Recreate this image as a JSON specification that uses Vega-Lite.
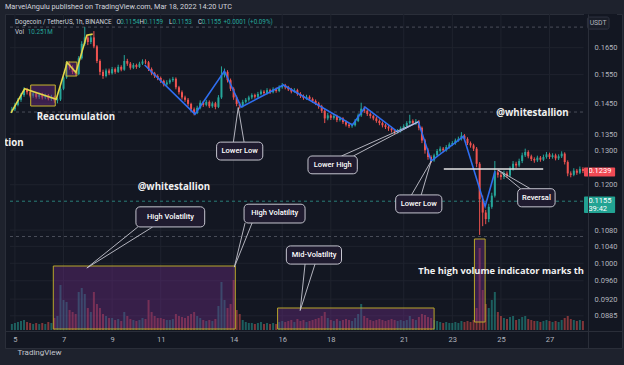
{
  "$schema": "https://vega.github.io/schema/vega-lite/v6.json",
  "width": 617,
  "height": 334,
  "autosize": {"type": "none"},
  "padding": {"left": 5, "top": 14, "right": 2, "bottom": 17},
  "background": "#1e222d",
  "title": {"text": "MarvelAngulu published on TradingView.com, Mar 18, 2022 14:20 UTC", "anchor": "start", "frame": "group", "fontSize": 7.3, "font": "Roboto", "fontWeight": "normal", "color": "#d1d4dc", "offset": 3},
  "config": {"view": {"fill": "#131722", "stroke": "#2a2e39"}},
  "datasets": {
    "c": [
      {"d":4.875,"o":0.1425,"h":0.1438,"l":0.1418,"c":0.1430,"v":6},
      {"d":5.000,"o":0.1430,"h":0.1452,"l":0.1424,"c":0.1445,"v":7},
      {"d":5.125,"o":0.1445,"h":0.1468,"l":0.1440,"c":0.1462,"v":8},
      {"d":5.250,"o":0.1462,"h":0.1485,"l":0.1455,"c":0.1478,"v":9},
      {"d":5.375,"o":0.1478,"h":0.1505,"l":0.1472,"c":0.1497,"v":10},
      {"d":5.500,"o":0.1497,"h":0.1503,"l":0.1480,"c":0.1488,"v":8},
      {"d":5.625,"o":0.1488,"h":0.1494,"l":0.1470,"c":0.1476,"v":7},
      {"d":5.750,"o":0.1476,"h":0.1490,"l":0.1469,"c":0.1484,"v":6},
      {"d":5.875,"o":0.1484,"h":0.1489,"l":0.1466,"c":0.1472,"v":7},
      {"d":6.000,"o":0.1472,"h":0.1487,"l":0.1465,"c":0.1480,"v":6},
      {"d":6.125,"o":0.1480,"h":0.1486,"l":0.1463,"c":0.1470,"v":7},
      {"d":6.250,"o":0.1470,"h":0.1483,"l":0.1464,"c":0.1477,"v":6},
      {"d":6.375,"o":0.1477,"h":0.1482,"l":0.1460,"c":0.1466,"v":8},
      {"d":6.500,"o":0.1466,"h":0.1479,"l":0.1458,"c":0.1472,"v":7},
      {"d":6.625,"o":0.1472,"h":0.1476,"l":0.1452,"c":0.1460,"v":12},
      {"d":6.750,"o":0.1460,"h":0.1470,"l":0.1450,"c":0.1463,"v":14},
      {"d":6.875,"o":0.1463,"h":0.1508,"l":0.1458,"c":0.1500,"v":45},
      {"d":7.000,"o":0.1500,"h":0.1548,"l":0.1495,"c":0.1540,"v":30},
      {"d":7.125,"o":0.1540,"h":0.1600,"l":0.1535,"c":0.1590,"v":28},
      {"d":7.250,"o":0.1590,"h":0.1598,"l":0.1568,"c":0.1575,"v":20},
      {"d":7.375,"o":0.1575,"h":0.1584,"l":0.1552,"c":0.1560,"v":18},
      {"d":7.500,"o":0.1560,"h":0.1566,"l":0.1545,"c":0.1552,"v":16},
      {"d":7.625,"o":0.1552,"h":0.1618,"l":0.1548,"c":0.1610,"v":38},
      {"d":7.750,"o":0.1610,"h":0.1675,"l":0.1605,"c":0.1665,"v":42},
      {"d":7.875,"o":0.1665,"h":0.1731,"l":0.1658,"c":0.1690,"v":36},
      {"d":8.000,"o":0.1690,"h":0.1700,"l":0.1660,"c":0.1672,"v":22},
      {"d":8.125,"o":0.1672,"h":0.1698,"l":0.1664,"c":0.1690,"v":18},
      {"d":8.250,"o":0.1690,"h":0.1715,"l":0.1648,"c":0.1655,"v":38},
      {"d":8.375,"o":0.1655,"h":0.1660,"l":0.1592,"c":0.1600,"v":26},
      {"d":8.500,"o":0.1600,"h":0.1606,"l":0.1548,"c":0.1560,"v":22},
      {"d":8.625,"o":0.1560,"h":0.1568,"l":0.1535,"c":0.1545,"v":16},
      {"d":8.750,"o":0.1545,"h":0.1572,"l":0.1540,"c":0.1565,"v":14},
      {"d":8.875,"o":0.1565,"h":0.1572,"l":0.1548,"c":0.1555,"v":12},
      {"d":9.000,"o":0.1555,"h":0.1578,"l":0.1550,"c":0.1570,"v":12},
      {"d":9.125,"o":0.1570,"h":0.1576,"l":0.1553,"c":0.1560,"v":10},
      {"d":9.250,"o":0.1560,"h":0.1586,"l":0.1556,"c":0.1578,"v":11},
      {"d":9.375,"o":0.1578,"h":0.1584,"l":0.1562,"c":0.1568,"v":9},
      {"d":9.500,"o":0.1568,"h":0.1622,"l":0.1564,"c":0.1600,"v":18},
      {"d":9.625,"o":0.1600,"h":0.1608,"l":0.1582,"c":0.1590,"v":14},
      {"d":9.750,"o":0.1590,"h":0.1596,"l":0.1568,"c":0.1575,"v":11},
      {"d":9.875,"o":0.1575,"h":0.1592,"l":0.1570,"c":0.1585,"v":10},
      {"d":10.000,"o":0.1585,"h":0.1590,"l":0.1571,"c":0.1578,"v":9},
      {"d":10.125,"o":0.1578,"h":0.1597,"l":0.1574,"c":0.1590,"v":10},
      {"d":10.250,"o":0.1590,"h":0.1606,"l":0.1585,"c":0.1598,"v":12},
      {"d":10.375,"o":0.1598,"h":0.1606,"l":0.1588,"c":0.1595,"v":11},
      {"d":10.500,"o":0.1595,"h":0.1600,"l":0.1563,"c":0.1570,"v":30},
      {"d":10.625,"o":0.1570,"h":0.1576,"l":0.1548,"c":0.1555,"v":18},
      {"d":10.750,"o":0.1555,"h":0.1560,"l":0.1538,"c":0.1545,"v":14},
      {"d":10.875,"o":0.1545,"h":0.1551,"l":0.1530,"c":0.1538,"v":12},
      {"d":11.000,"o":0.1538,"h":0.1543,"l":0.1520,"c":0.1528,"v":12},
      {"d":11.125,"o":0.1528,"h":0.1532,"l":0.1508,"c":0.1515,"v":11},
      {"d":11.250,"o":0.1515,"h":0.1530,"l":0.1510,"c":0.1522,"v":10},
      {"d":11.375,"o":0.1522,"h":0.1536,"l":0.1516,"c":0.1530,"v":10},
      {"d":11.500,"o":0.1530,"h":0.1542,"l":0.1524,"c":0.1535,"v":11},
      {"d":11.625,"o":0.1535,"h":0.1540,"l":0.1498,"c":0.1505,"v":16},
      {"d":11.750,"o":0.1505,"h":0.1510,"l":0.1480,"c":0.1488,"v":14},
      {"d":11.875,"o":0.1488,"h":0.1494,"l":0.1463,"c":0.1470,"v":13},
      {"d":12.000,"o":0.1470,"h":0.1476,"l":0.1455,"c":0.1462,"v":12},
      {"d":12.125,"o":0.1462,"h":0.1468,"l":0.1440,"c":0.1448,"v":14},
      {"d":12.250,"o":0.1448,"h":0.1452,"l":0.1422,"c":0.1430,"v":16},
      {"d":12.375,"o":0.1430,"h":0.1436,"l":0.1410,"c":0.1418,"v":18},
      {"d":12.500,"o":0.1418,"h":0.1442,"l":0.1414,"c":0.1435,"v":14},
      {"d":12.625,"o":0.1435,"h":0.1460,"l":0.1430,"c":0.1452,"v":12},
      {"d":12.750,"o":0.1452,"h":0.1458,"l":0.1438,"c":0.1445,"v":10},
      {"d":12.875,"o":0.1445,"h":0.1462,"l":0.1440,"c":0.1455,"v":9},
      {"d":13.000,"o":0.1455,"h":0.1460,"l":0.1434,"c":0.1440,"v":10},
      {"d":13.125,"o":0.1440,"h":0.1456,"l":0.1435,"c":0.1450,"v":9},
      {"d":13.250,"o":0.1450,"h":0.1455,"l":0.1430,"c":0.1438,"v":11},
      {"d":13.375,"o":0.1438,"h":0.1478,"l":0.1434,"c":0.1470,"v":24},
      {"d":13.500,"o":0.1470,"h":0.1580,"l":0.1465,"c":0.1548,"v":48},
      {"d":13.625,"o":0.1548,"h":0.1572,"l":0.1540,"c":0.1560,"v":30},
      {"d":13.750,"o":0.1560,"h":0.1566,"l":0.1522,"c":0.1530,"v":22},
      {"d":13.875,"o":0.1530,"h":0.1536,"l":0.1492,"c":0.1500,"v":26},
      {"d":14.000,"o":0.1500,"h":0.1505,"l":0.1462,"c":0.1470,"v":50},
      {"d":14.125,"o":0.1470,"h":0.1476,"l":0.1440,"c":0.1448,"v":20},
      {"d":14.250,"o":0.1448,"h":0.1454,"l":0.1432,"c":0.1440,"v":16},
      {"d":14.375,"o":0.1440,"h":0.1462,"l":0.1436,"c":0.1455,"v":10},
      {"d":14.500,"o":0.1455,"h":0.1468,"l":0.1450,"c":0.1462,"v":8},
      {"d":14.625,"o":0.1462,"h":0.1476,"l":0.1456,"c":0.1470,"v":7},
      {"d":14.750,"o":0.1470,"h":0.1484,"l":0.1464,"c":0.1478,"v":7},
      {"d":14.875,"o":0.1478,"h":0.1483,"l":0.1466,"c":0.1472,"v":6},
      {"d":15.000,"o":0.1472,"h":0.1489,"l":0.1468,"c":0.1482,"v":7},
      {"d":15.125,"o":0.1482,"h":0.1497,"l":0.1477,"c":0.1490,"v":8},
      {"d":15.250,"o":0.1490,"h":0.1495,"l":0.1478,"c":0.1485,"v":6},
      {"d":15.375,"o":0.1485,"h":0.1502,"l":0.1480,"c":0.1495,"v":7},
      {"d":15.500,"o":0.1495,"h":0.1500,"l":0.1482,"c":0.1488,"v":6},
      {"d":15.625,"o":0.1488,"h":0.1505,"l":0.1484,"c":0.1498,"v":7},
      {"d":15.750,"o":0.1498,"h":0.1504,"l":0.1486,"c":0.1492,"v":6},
      {"d":15.875,"o":0.1492,"h":0.1512,"l":0.1488,"c":0.1505,"v":8},
      {"d":16.000,"o":0.1505,"h":0.1520,"l":0.1500,"c":0.1512,"v":9},
      {"d":16.125,"o":0.1512,"h":0.1517,"l":0.1498,"c":0.1505,"v":8},
      {"d":16.250,"o":0.1505,"h":0.1510,"l":0.1492,"c":0.1498,"v":9},
      {"d":16.375,"o":0.1498,"h":0.1503,"l":0.1484,"c":0.1490,"v":10},
      {"d":16.500,"o":0.1490,"h":0.1502,"l":0.1486,"c":0.1495,"v":8},
      {"d":16.625,"o":0.1495,"h":0.1500,"l":0.1476,"c":0.1482,"v":11},
      {"d":16.750,"o":0.1482,"h":0.1488,"l":0.1468,"c":0.1475,"v":9},
      {"d":16.875,"o":0.1475,"h":0.1480,"l":0.1462,"c":0.1468,"v":10},
      {"d":17.000,"o":0.1468,"h":0.1479,"l":0.1462,"c":0.1472,"v":8},
      {"d":17.125,"o":0.1472,"h":0.1477,"l":0.1458,"c":0.1465,"v":9},
      {"d":17.250,"o":0.1465,"h":0.1470,"l":0.1452,"c":0.1458,"v":10},
      {"d":17.375,"o":0.1458,"h":0.1463,"l":0.1444,"c":0.1450,"v":11},
      {"d":17.500,"o":0.1450,"h":0.1455,"l":0.1432,"c":0.1440,"v":12},
      {"d":17.625,"o":0.1440,"h":0.1445,"l":0.1418,"c":0.1425,"v":14},
      {"d":17.750,"o":0.1425,"h":0.1430,"l":0.1385,"c":0.1400,"v":18},
      {"d":17.875,"o":0.1400,"h":0.1418,"l":0.1394,"c":0.1410,"v":12},
      {"d":18.000,"o":0.1410,"h":0.1415,"l":0.1395,"c":0.1402,"v":10},
      {"d":18.125,"o":0.1402,"h":0.1414,"l":0.1396,"c":0.1408,"v":9},
      {"d":18.250,"o":0.1408,"h":0.1412,"l":0.1388,"c":0.1395,"v":11},
      {"d":18.375,"o":0.1395,"h":0.1406,"l":0.1390,"c":0.1400,"v":9},
      {"d":18.500,"o":0.1400,"h":0.1404,"l":0.1382,"c":0.1388,"v":10},
      {"d":18.625,"o":0.1388,"h":0.1393,"l":0.1374,"c":0.1380,"v":11},
      {"d":18.750,"o":0.1380,"h":0.1385,"l":0.1369,"c":0.1375,"v":10},
      {"d":18.875,"o":0.1375,"h":0.1384,"l":0.1370,"c":0.1378,"v":9},
      {"d":19.000,"o":0.1378,"h":0.1398,"l":0.1374,"c":0.1392,"v":12},
      {"d":19.125,"o":0.1392,"h":0.1416,"l":0.1388,"c":0.1410,"v":16},
      {"d":19.250,"o":0.1410,"h":0.1452,"l":0.1405,"c":0.1432,"v":26},
      {"d":19.375,"o":0.1432,"h":0.1440,"l":0.1418,"c":0.1425,"v":14},
      {"d":19.500,"o":0.1425,"h":0.1430,"l":0.1408,"c":0.1415,"v":12},
      {"d":19.625,"o":0.1415,"h":0.1420,"l":0.1400,"c":0.1408,"v":10},
      {"d":19.750,"o":0.1408,"h":0.1412,"l":0.1394,"c":0.1400,"v":9},
      {"d":19.875,"o":0.1400,"h":0.1405,"l":0.1386,"c":0.1392,"v":10},
      {"d":20.000,"o":0.1392,"h":0.1397,"l":0.1378,"c":0.1385,"v":11},
      {"d":20.125,"o":0.1385,"h":0.1390,"l":0.1371,"c":0.1378,"v":10},
      {"d":20.250,"o":0.1378,"h":0.1383,"l":0.1366,"c":0.1372,"v":9},
      {"d":20.375,"o":0.1372,"h":0.1378,"l":0.1360,"c":0.1368,"v":10},
      {"d":20.500,"o":0.1368,"h":0.1373,"l":0.1355,"c":0.1362,"v":11},
      {"d":20.625,"o":0.1362,"h":0.1366,"l":0.1350,"c":0.1358,"v":10},
      {"d":20.750,"o":0.1358,"h":0.1366,"l":0.1352,"c":0.1360,"v":9},
      {"d":20.875,"o":0.1360,"h":0.1374,"l":0.1355,"c":0.1368,"v":10},
      {"d":21.000,"o":0.1368,"h":0.1381,"l":0.1363,"c":0.1375,"v":9},
      {"d":21.125,"o":0.1375,"h":0.1391,"l":0.1370,"c":0.1385,"v":10},
      {"d":21.250,"o":0.1385,"h":0.1412,"l":0.1380,"c":0.1392,"v":14},
      {"d":21.375,"o":0.1392,"h":0.1397,"l":0.1378,"c":0.1384,"v":11},
      {"d":21.500,"o":0.1384,"h":0.1398,"l":0.1379,"c":0.1390,"v":10},
      {"d":21.625,"o":0.1390,"h":0.1395,"l":0.1362,"c":0.1370,"v":13},
      {"d":21.750,"o":0.1370,"h":0.1374,"l":0.1322,"c":0.1330,"v":16},
      {"d":21.875,"o":0.1330,"h":0.1335,"l":0.1290,"c":0.1300,"v":15},
      {"d":22.000,"o":0.1300,"h":0.1306,"l":0.1272,"c":0.1280,"v":13},
      {"d":22.125,"o":0.1280,"h":0.1285,"l":0.1262,"c":0.1270,"v":12},
      {"d":22.250,"o":0.1270,"h":0.1290,"l":0.1266,"c":0.1285,"v":10},
      {"d":22.375,"o":0.1285,"h":0.1304,"l":0.1280,"c":0.1298,"v":9},
      {"d":22.500,"o":0.1298,"h":0.1312,"l":0.1293,"c":0.1305,"v":8},
      {"d":22.625,"o":0.1305,"h":0.1310,"l":0.1294,"c":0.1300,"v":7},
      {"d":22.750,"o":0.1300,"h":0.1316,"l":0.1296,"c":0.1310,"v":8},
      {"d":22.875,"o":0.1310,"h":0.1324,"l":0.1305,"c":0.1318,"v":7},
      {"d":23.000,"o":0.1318,"h":0.1328,"l":0.1313,"c":0.1322,"v":7},
      {"d":23.125,"o":0.1322,"h":0.1336,"l":0.1317,"c":0.1330,"v":8},
      {"d":23.250,"o":0.1330,"h":0.1342,"l":0.1326,"c":0.1335,"v":7},
      {"d":23.375,"o":0.1335,"h":0.1356,"l":0.1330,"c":0.1345,"v":9},
      {"d":23.500,"o":0.1345,"h":0.1350,"l":0.1328,"c":0.1335,"v":8},
      {"d":23.625,"o":0.1335,"h":0.1340,"l":0.1316,"c":0.1322,"v":9},
      {"d":23.750,"o":0.1322,"h":0.1327,"l":0.1308,"c":0.1315,"v":8},
      {"d":23.875,"o":0.1315,"h":0.1320,"l":0.1298,"c":0.1305,"v":10},
      {"d":24.000,"o":0.1305,"h":0.1310,"l":0.1250,"c":0.1260,"v":22},
      {"d":24.125,"o":0.1260,"h":0.1265,"l":0.1068,"c":0.1160,"v":82},
      {"d":24.250,"o":0.1160,"h":0.1170,"l":0.1090,"c":0.1125,"v":40},
      {"d":24.375,"o":0.1125,"h":0.1132,"l":0.1095,"c":0.1108,"v":26},
      {"d":24.500,"o":0.1108,"h":0.1148,"l":0.1100,"c":0.1140,"v":22},
      {"d":24.625,"o":0.1140,"h":0.1178,"l":0.1135,"c":0.1170,"v":30},
      {"d":24.750,"o":0.1170,"h":0.1268,"l":0.1165,"c":0.1235,"v":38},
      {"d":24.875,"o":0.1235,"h":0.1242,"l":0.1220,"c":0.1228,"v":18},
      {"d":25.000,"o":0.1228,"h":0.1234,"l":0.1214,"c":0.1222,"v":14},
      {"d":25.125,"o":0.1222,"h":0.1240,"l":0.1216,"c":0.1232,"v":12},
      {"d":25.250,"o":0.1232,"h":0.1238,"l":0.1219,"c":0.1226,"v":11},
      {"d":25.375,"o":0.1226,"h":0.1252,"l":0.1221,"c":0.1245,"v":13},
      {"d":25.500,"o":0.1245,"h":0.1268,"l":0.1240,"c":0.1260,"v":14},
      {"d":25.625,"o":0.1260,"h":0.1266,"l":0.1248,"c":0.1255,"v":10},
      {"d":25.750,"o":0.1255,"h":0.1275,"l":0.1250,"c":0.1268,"v":11},
      {"d":25.875,"o":0.1268,"h":0.1293,"l":0.1262,"c":0.1285,"v":13},
      {"d":26.000,"o":0.1285,"h":0.1305,"l":0.1280,"c":0.1295,"v":14},
      {"d":26.125,"o":0.1295,"h":0.1300,"l":0.1276,"c":0.1282,"v":11},
      {"d":26.250,"o":0.1282,"h":0.1287,"l":0.1268,"c":0.1274,"v":10},
      {"d":26.375,"o":0.1274,"h":0.1279,"l":0.1263,"c":0.1270,"v":9},
      {"d":26.500,"o":0.1270,"h":0.1284,"l":0.1265,"c":0.1278,"v":9},
      {"d":26.625,"o":0.1278,"h":0.1283,"l":0.1266,"c":0.1272,"v":8},
      {"d":26.750,"o":0.1272,"h":0.1287,"l":0.1268,"c":0.1280,"v":9},
      {"d":26.875,"o":0.1280,"h":0.1295,"l":0.1275,"c":0.1288,"v":10},
      {"d":27.000,"o":0.1288,"h":0.1293,"l":0.1274,"c":0.1280,"v":9},
      {"d":27.125,"o":0.1280,"h":0.1291,"l":0.1275,"c":0.1285,"v":8},
      {"d":27.250,"o":0.1285,"h":0.1290,"l":0.1270,"c":0.1276,"v":9},
      {"d":27.375,"o":0.1276,"h":0.1288,"l":0.1271,"c":0.1282,"v":8},
      {"d":27.500,"o":0.1282,"h":0.1297,"l":0.1277,"c":0.1290,"v":10},
      {"d":27.625,"o":0.1290,"h":0.1294,"l":0.1258,"c":0.1265,"v":12},
      {"d":27.750,"o":0.1265,"h":0.1270,"l":0.1224,"c":0.1232,"v":14},
      {"d":27.875,"o":0.1232,"h":0.1238,"l":0.1221,"c":0.1228,"v":11},
      {"d":28.000,"o":0.1228,"h":0.1247,"l":0.1224,"c":0.1240,"v":10},
      {"d":28.125,"o":0.1240,"h":0.1245,"l":0.1228,"c":0.1234,"v":9},
      {"d":28.250,"o":0.1234,"h":0.1252,"l":0.1230,"c":0.1245,"v":10},
      {"d":28.375,"o":0.1245,"h":0.1250,"l":0.1233,"c":0.1239,"v":9}
    ],
    "vgrid": [{"d":5},{"d":7},{"d":9},{"d":11},{"d":14},{"d":16},{"d":18},{"d":21},{"d":23},{"d":25},{"d":27}],
    "hgrid": [{"p":0.165},{"p":0.155},{"p":0.145},{"p":0.135},{"p":0.13},{"p":0.12},{"p":0.108},{"p":0.104},{"p":0.1},{"p":0.096},{"p":0.092},{"p":0.0885}],
    "hl": [{"p":0.1731,"k":"g"},{"p":0.1421,"k":"g"},{"p":0.1155,"k":"cur"},{"p":0.1064,"k":"g"}],
    "vb": [
      {"d":6.58,"d2":14.07,"v":1,"v2":64},
      {"d":15.81,"d2":22.25,"v":1,"v2":22},
      {"d":23.91,"d2":24.35,"v":8,"v2":91}
    ],
    "pb": [
      {"d":5.65,"d2":6.66,"p":0.1513,"p2":0.1441},
      {"d":7.11,"d2":7.55,"p":0.1596,"p2":0.1545}
    ],
    "ln": [
      {"g":"y","i":1,"d":4.84,"p":0.1418},
      {"g":"y","i":2,"d":5.40,"p":0.1500},
      {"g":"y","i":3,"d":6.70,"p":0.1464},
      {"g":"y","i":4,"d":7.15,"p":0.1594},
      {"g":"y","i":5,"d":7.51,"p":0.1558},
      {"g":"y","i":6,"d":7.96,"p":0.1699},
      {"g":"y","i":7,"d":8.20,"p":0.1703},
      {"g":"b","i":1,"d":10.34,"p":0.1585},
      {"g":"b","i":2,"d":12.41,"p":0.1414},
      {"g":"b","i":3,"d":13.62,"p":0.1563},
      {"g":"b","i":4,"d":14.31,"p":0.1437},
      {"g":"b","i":5,"d":16.05,"p":0.1513},
      {"g":"b","i":6,"d":18.89,"p":0.1379},
      {"g":"b","i":7,"d":19.41,"p":0.1437},
      {"g":"b","i":8,"d":20.75,"p":0.1357},
      {"g":"b","i":9,"d":21.60,"p":0.1389},
      {"g":"b","i":10,"d":22.13,"p":0.1268},
      {"g":"b","i":11,"d":23.46,"p":0.1343},
      {"g":"b","i":12,"d":24.35,"p":0.1141},
      {"g":"b","i":13,"d":24.76,"p":0.1239}
    ],
    "wl": [{"d":22.65,"d2":26.74,"p":0.1245}],
    "sg": [
      {"d":13.99,"p":0.1325,"d2":14.19,"p2":0.1436},
      {"d":14.43,"p":0.1325,"d2":14.19,"p2":0.1436},
      {"d":18.44,"p":0.1283,"d2":21.60,"p2":0.1389},
      {"d":18.93,"p":0.1283,"d2":21.60,"p2":0.1389},
      {"d":21.32,"p":0.1172,"d2":22.13,"p2":0.1268},
      {"d":21.72,"p":0.1172,"d2":22.13,"p2":0.1268},
      {"d":25.81,"p":0.1189,"d2":24.88,"p2":0.1242},
      {"d":26.21,"p":0.1189,"d2":24.88,"p2":0.1242},
      {"d":10.06,"p":0.1088,"d2":7.96,"p2":0.0989},
      {"d":10.67,"p":0.1088,"d2":7.96,"p2":0.0989},
      {"d":14.47,"p":0.1098,"d2":14.03,"p2":0.0991},
      {"d":14.76,"p":0.1098,"d2":14.03,"p2":0.0991},
      {"d":16.94,"p":0.0998,"d2":16.74,"p2":0.0896},
      {"d":17.35,"p":0.0998,"d2":16.74,"p2":0.0896}
    ],
    "cb": [
      {"d":13.30,"d2":15.20,"p":0.1325,"p2":0.1271},
      {"d":17.06,"d2":19.09,"p":0.1283,"p2":0.1231},
      {"d":20.67,"d2":22.57,"p":0.1172,"p2":0.1124},
      {"d":25.69,"d2":27.23,"p":0.1189,"p2":0.1140},
      {"d":9.98,"d2":12.81,"p":0.1140,"p2":0.1088},
      {"d":14.43,"d2":16.94,"p":0.1147,"p2":0.1098},
      {"d":16.17,"d2":18.44,"p":0.1041,"p2":0.0998}
    ],
    "cl": [
      {"t":"Lower Low","d":14.25,"p":0.1298},
      {"t":"Lower High","d":18.08,"p":0.1257},
      {"t":"Lower Low","d":21.62,"p":0.1147},
      {"t":"Reversal","d":26.46,"p":0.1164},
      {"t":"High Volatility","d":11.40,"p":0.1114},
      {"t":"High Volatility","d":15.69,"p":0.1123},
      {"t":"Mid-Volatility","d":17.31,"p":0.1019}
    ],
    "nc": [
      {"t":"Reaccumulation","d":7.51,"p":0.1404},
      {"t":"@whitestallion","d":11.54,"p":0.1194},
      {"t":"@whitestallion","d":26.30,"p":0.1418}
    ],
    "nl": [{"t":"The high volume indicator marks the","d":21.60,"p":0.0982}],
    "nr": [{"t":"Accumulation","d":5.36,"p":0.1323}],
    "lg": [
      {"t":"Dogecoin / TetherUS, 1h, BINANCE","d":5.00,"p":0.1752,"k":"n"},
      {"t":"O","d":9.18,"p":0.1752,"k":"n"},
      {"t":"0.1154","d":9.33,"p":0.1752,"k":"t"},
      {"t":"H","d":10.13,"p":0.1752,"k":"n"},
      {"t":"0.1159","d":10.30,"p":0.1752,"k":"t"},
      {"t":"L","d":11.34,"p":0.1752,"k":"n"},
      {"t":"0.1153","d":11.48,"p":0.1752,"k":"t"},
      {"t":"C","d":12.53,"p":0.1752,"k":"n"},
      {"t":"0.1155","d":12.69,"p":0.1752,"k":"t"},
      {"t":"+0.0001 (+0.09%)","d":13.58,"p":0.1752,"k":"t"},
      {"t":"Vol","d":5.00,"p":0.1711,"k":"n"},
      {"t":"10.251M","d":5.53,"p":0.1711,"k":"t"}
    ],
    "tg": [
      {"d":28.42,"d2":29.70,"p":0.1249,"p2":0.1223,"k":"r"},
      {"d":28.42,"d2":29.70,"p":0.1168,"p2":0.1124,"k":"t"}
    ],
    "tt": [
      {"t":"0.1239","d":28.60,"p":0.1239},
      {"t":"0.1155","d":28.60,"p":0.1155},
      {"t":"39:42","d":28.60,"p":0.1135}
    ],
    "ub": [{"d":28.56,"d2":29.45,"p":0.1772,"p2":0.1723}],
    "ut": [{"t":"USDT","d":29.0,"p":0.1747}],
    "one": [{"d":28.42,"d2":29.7773,"p":0.08212,"p2":0.17845}]
  },
  "resolve": {"scale": {"y": "independent"}, "axis": {"x": "independent", "y": "independent"}},
  "layer": [
    {
      "data": {"name": "vgrid"},
      "mark": {"type": "rule", "color": "#1f232e", "strokeWidth": 1},
      "encoding": {
        "x": {"field": "d", "type": "quantitative", "scale": {"domain": [4.7976, 29.7773], "nice": false, "zero": false}, "axis": null},
        "y": {"datum": 0.0854, "type": "quantitative", "scale": {"type": "log", "domain": [0.08212, 0.17845], "nice": false, "zero": false}, "axis": null},
        "y2": {"datum": 0.17845}
      }
    },
    {
      "data": {"name": "hgrid"},
      "mark": {"type": "rule", "color": "#1f232e", "strokeWidth": 1},
      "encoding": {
        "x": {"datum": 4.7976, "type": "quantitative", "axis": null},
        "x2": {"datum": 28.40},
        "y": {"field": "p", "type": "quantitative", "scale": {"type": "log", "domain": [0.08212, 0.17845], "nice": false, "zero": false}, "axis": null}
      }
    },
    {
      "data": {"name": "c"},
      "mark": {"type": "bar", "size": 2, "opacity": 0.5},
      "encoding": {
        "x": {"field": "d", "type": "quantitative", "axis": null},
        "y": {"field": "v", "type": "quantitative", "stack": null, "scale": {"domain": [-18, 316], "nice": false, "zero": false}, "axis": null},
        "color": {"condition": {"test": "datum.c >= datum.o", "value": "#26a69a"}, "value": "#ef5350"}
      }
    },
    {
      "data": {"name": "vb"},
      "mark": {"type": "rect", "fill": "#6a2a80", "fillOpacity": 0.42, "stroke": "#b8a62a", "strokeWidth": 1},
      "encoding": {
        "x": {"field": "d", "type": "quantitative", "axis": null},
        "x2": {"field": "d2"},
        "y": {"field": "v", "type": "quantitative", "scale": {"domain": [-18, 316], "nice": false, "zero": false}, "axis": null},
        "y2": {"field": "v2"}
      }
    },
    {
      "data": {"name": "hl"},
      "mark": {"type": "rule", "strokeDash": [3, 3], "strokeWidth": 1},
      "encoding": {
        "x": {"datum": 4.7976, "type": "quantitative", "axis": null},
        "x2": {"datum": 28.40},
        "y": {"field": "p", "type": "quantitative", "scale": {"type": "log", "domain": [0.08212, 0.17845], "nice": false, "zero": false}, "axis": null},
        "color": {"condition": {"test": "datum.k == 'cur'", "value": "#2a7f78"}, "value": "#4a4e5a"}
      }
    },
    {
      "data": {"name": "c"},
      "mark": {"type": "rule", "strokeWidth": 1},
      "encoding": {
        "x": {"field": "d", "type": "quantitative", "scale": {"domain": [4.7976, 29.7773], "nice": false, "zero": false},
          "axis": {"values": [5,7,9,11,14,16,18,21,23,25,27], "format": "d", "orient": "bottom", "offset": -17, "ticks": false, "grid": false, "domain": true, "domainColor": "#2a2e39", "labelColor": "#b2b5be", "labelFontSize": 7.5, "labelFont": "Roboto", "labelPadding": 4, "labelFlush": false, "labelOverlap": false, "title": "TradingView", "titleColor": "#c3c6ce", "titleFontSize": 8, "titleFont": "Roboto", "titleFontWeight": "normal", "titleAnchor": "start", "titleAlign": "left", "titleX": 12, "titleY": 21, "titleBaseline": "middle", "zindex": 1}},
        "y": {"field": "l", "type": "quantitative", "scale": {"type": "log", "domain": [0.08212, 0.17845], "nice": false, "zero": false},
          "axis": {"orient": "right", "offset": -34, "values": [0.165,0.155,0.145,0.135,0.13,0.12,0.108,0.104,0.1,0.096,0.092,0.0885], "format": ".4f", "ticks": false, "grid": false, "domain": true, "domainColor": "#2a2e39", "labelColor": "#b2b5be", "labelFontSize": 7.5, "labelFont": "Roboto", "labelPadding": 6, "labelOverlap": false, "labelFlush": false, "title": null, "zindex": 1}},
        "y2": {"field": "h"},
        "color": {"condition": {"test": "datum.c >= datum.o", "value": "#26a69a"}, "value": "#ef5350"}
      }
    },
    {
      "data": {"name": "c"},
      "mark": {"type": "bar", "size": 2},
      "encoding": {
        "x": {"field": "d", "type": "quantitative", "axis": null},
        "y": {"field": "o", "type": "quantitative", "scale": {"type": "log", "domain": [0.08212, 0.17845], "nice": false, "zero": false}, "axis": null},
        "y2": {"field": "c"},
        "color": {"condition": {"test": "datum.c >= datum.o", "value": "#26a69a"}, "value": "#ef5350"}
      }
    },
    {
      "data": {"name": "pb"},
      "mark": {"type": "rect", "fill": "#6a2a80", "fillOpacity": 0.45, "stroke": "#c8b52c", "strokeWidth": 1},
      "encoding": {
        "x": {"field": "d", "type": "quantitative", "axis": null},
        "x2": {"field": "d2"},
        "y": {"field": "p", "type": "quantitative", "scale": {"type": "log", "domain": [0.08212, 0.17845], "nice": false, "zero": false}, "axis": null},
        "y2": {"field": "p2"}
      }
    },
    {
      "data": {"name": "ln"},
      "mark": {"type": "line", "strokeWidth": 1.6},
      "encoding": {
        "x": {"field": "d", "type": "quantitative", "axis": null},
        "y": {"field": "p", "type": "quantitative", "scale": {"type": "log", "domain": [0.08212, 0.17845], "nice": false, "zero": false}, "axis": null},
        "detail": {"field": "g"},
        "order": {"field": "i", "type": "quantitative"},
        "color": {"condition": {"test": "datum.g == 'y'", "value": "#e3d64a"}, "value": "#2f6ef0"}
      }
    },
    {
      "data": {"name": "wl"},
      "mark": {"type": "rule", "color": "#e6e6e6", "strokeWidth": 1.5},
      "encoding": {
        "x": {"field": "d", "type": "quantitative", "axis": null},
        "x2": {"field": "d2"},
        "y": {"field": "p", "type": "quantitative", "scale": {"type": "log", "domain": [0.08212, 0.17845], "nice": false, "zero": false}, "axis": null}
      }
    },
    {
      "data": {"name": "sg"},
      "mark": {"type": "rule", "color": "#c5c5cf", "strokeWidth": 0.9},
      "encoding": {
        "x": {"field": "d", "type": "quantitative", "axis": null},
        "x2": {"field": "d2"},
        "y": {"field": "p", "type": "quantitative", "scale": {"type": "log", "domain": [0.08212, 0.17845], "nice": false, "zero": false}, "axis": null},
        "y2": {"field": "p2"}
      }
    },
    {
      "data": {"name": "cb"},
      "mark": {"type": "rect", "fill": "#1f1b2f", "stroke": "#c5c5cf", "strokeWidth": 1, "cornerRadius": 4},
      "encoding": {
        "x": {"field": "d", "type": "quantitative", "axis": null},
        "x2": {"field": "d2"},
        "y": {"field": "p", "type": "quantitative", "scale": {"type": "log", "domain": [0.08212, 0.17845], "nice": false, "zero": false}, "axis": null},
        "y2": {"field": "p2"}
      }
    },
    {
      "data": {"name": "cl"},
      "mark": {"type": "text", "font": "Roboto", "fontWeight": 500, "fontSize": 7.5, "color": "#ffffff", "align": "center", "baseline": "middle"},
      "encoding": {
        "x": {"field": "d", "type": "quantitative", "axis": null},
        "y": {"field": "p", "type": "quantitative", "scale": {"type": "log", "domain": [0.08212, 0.17845], "nice": false, "zero": false}, "axis": null},
        "text": {"field": "t"}
      }
    },
    {
      "data": {"name": "nc"},
      "mark": {"type": "text", "font": "Open Sans", "fontWeight": 700, "fontSize": 9.7, "color": "#f0f0f0", "align": "center", "baseline": "middle"},
      "encoding": {
        "x": {"field": "d", "type": "quantitative", "axis": null},
        "y": {"field": "p", "type": "quantitative", "scale": {"type": "log", "domain": [0.08212, 0.17845], "nice": false, "zero": false}, "axis": null},
        "text": {"field": "t"}
      }
    },
    {
      "data": {"name": "nl"},
      "mark": {"type": "text", "font": "Open Sans", "fontWeight": 700, "fontSize": 9.3, "color": "#f0f0f0", "align": "left", "baseline": "middle"},
      "encoding": {
        "x": {"field": "d", "type": "quantitative", "axis": null},
        "y": {"field": "p", "type": "quantitative", "scale": {"type": "log", "domain": [0.08212, 0.17845], "nice": false, "zero": false}, "axis": null},
        "text": {"field": "t"}
      }
    },
    {
      "data": {"name": "nr"},
      "mark": {"type": "text", "font": "Open Sans", "fontWeight": 700, "fontSize": 9.7, "color": "#f0f0f0", "align": "right", "baseline": "middle", "clip": true},
      "encoding": {
        "x": {"field": "d", "type": "quantitative", "axis": null},
        "y": {"field": "p", "type": "quantitative", "scale": {"type": "log", "domain": [0.08212, 0.17845], "nice": false, "zero": false}, "axis": null},
        "text": {"field": "t"}
      }
    },
    {
      "data": {"name": "lg"},
      "mark": {"type": "text", "font": "Roboto", "fontSize": 6.3, "align": "left", "baseline": "middle"},
      "encoding": {
        "x": {"field": "d", "type": "quantitative", "axis": null},
        "y": {"field": "p", "type": "quantitative", "scale": {"type": "log", "domain": [0.08212, 0.17845], "nice": false, "zero": false}, "axis": null},
        "text": {"field": "t"},
        "color": {"condition": {"test": "datum.k == 't'", "value": "#26a69a"}, "value": "#d1d4dc"}
      }
    },
    {
      "data": {"name": "one"},
      "mark": {"type": "rect", "fill": "#131722"},
      "encoding": {
        "x": {"field": "d", "type": "quantitative", "axis": null},
        "x2": {"field": "d2"},
        "y": {"field": "p", "type": "quantitative", "scale": {"type": "log", "domain": [0.08212, 0.17845], "nice": false, "zero": false}, "axis": null},
        "y2": {"field": "p2"}
      }
    },
    {
      "data": {"name": "tg"},
      "mark": {"type": "rect", "cornerRadius": 1},
      "encoding": {
        "x": {"field": "d", "type": "quantitative", "axis": null},
        "x2": {"field": "d2"},
        "y": {"field": "p", "type": "quantitative", "scale": {"type": "log", "domain": [0.08212, 0.17845], "nice": false, "zero": false}, "axis": null},
        "y2": {"field": "p2"},
        "color": {"condition": {"test": "datum.k == 'r'", "value": "#f04a55"}, "value": "#22a393"}
      }
    },
    {
      "data": {"name": "tt"},
      "mark": {"type": "text", "font": "Roboto", "fontSize": 7.5, "color": "#ffffff", "align": "left", "baseline": "middle"},
      "encoding": {
        "x": {"field": "d", "type": "quantitative", "axis": null},
        "y": {"field": "p", "type": "quantitative", "scale": {"type": "log", "domain": [0.08212, 0.17845], "nice": false, "zero": false}, "axis": null},
        "text": {"field": "t"}
      }
    },
    {
      "data": {"name": "ub"},
      "mark": {"type": "rect", "fill": "#1a1e29", "stroke": "#2f3340", "strokeWidth": 1, "cornerRadius": 2},
      "encoding": {
        "x": {"field": "d", "type": "quantitative", "axis": null},
        "x2": {"field": "d2"},
        "y": {"field": "p", "type": "quantitative", "scale": {"type": "log", "domain": [0.08212, 0.17845], "nice": false, "zero": false}, "axis": null},
        "y2": {"field": "p2"}
      }
    },
    {
      "data": {"name": "ut"},
      "mark": {"type": "text", "font": "Roboto", "fontSize": 6.8, "color": "#b2b5be", "align": "center", "baseline": "middle"},
      "encoding": {
        "x": {"field": "d", "type": "quantitative", "axis": null},
        "y": {"field": "p", "type": "quantitative", "scale": {"type": "log", "domain": [0.08212, 0.17845], "nice": false, "zero": false}, "axis": null},
        "text": {"field": "t"}
      }
    }
  ]
}
